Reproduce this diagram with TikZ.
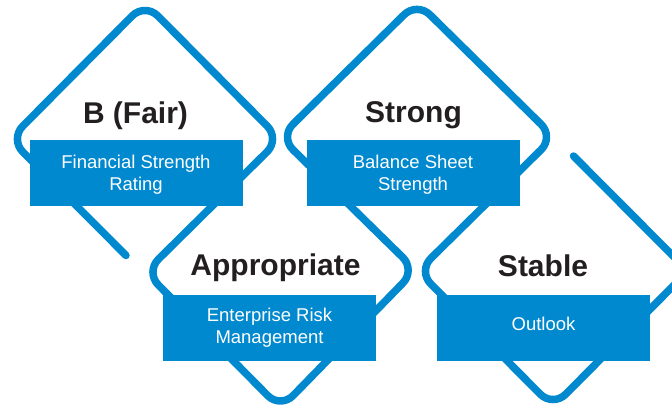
\documentclass[tikz,border=0pt]{standalone}
\usepackage{fontspec}
\setmainfont{Liberation Sans}
\definecolor{brandblue}{RGB}{0,137,207}
\definecolor{ink}{RGB}{35,31,32}
\begin{document}
\begin{tikzpicture}[x=1pt,y=-1pt,
  framepath/.style={draw=brandblue, line width=7.5pt, rounded corners=18pt, line cap=round, line join=round},
  tagbox/.style={fill=brandblue, draw=none, minimum width=213pt, minimum height=66pt, inner sep=0pt, anchor=north west},
  headtxt/.style={font=\fontsize{30}{36}\selectfont\bfseries, text=ink, anchor=base, inner sep=0pt},
  subtxt/.style={font=\fontsize{18.5}{22}\selectfont, text=white, anchor=base, inner sep=0pt}]
\useasboundingbox (0,0) rectangle (672,407);
\begin{scope}
\clip (0,0) rectangle (672,407);
\coordinate (s) at (126,255.5);
\coordinate (d1l) at (10,139);
\coordinate (d1t) at (145,3);
\coordinate (d1r) at (280,139);
\coordinate (d3l) at (145.5,272);
\coordinate (d3b) at (280.5,408.5);
\coordinate (d3r) at (415.6,270);
\coordinate (d2l) at (280,137);
\coordinate (d2t) at (417,2);
\coordinate (d2r) at (554,137);
\coordinate (d4l) at (418,271);
\coordinate (d4b) at (553,407);
\coordinate (d4r) at (688,271);
\coordinate (e) at (573.5,156);
\draw[framepath] (s) -- (d1l) -- (d1t) -- (d1r) -- (d3l) -- (d3b) -- (d3r) -- (d2l) -- (d2t) -- (d2r) -- (d4l) -- (d4b) -- (d4r) -- (e);
\end{scope}
\node[tagbox] (r1) at (30,140) {};
\node[tagbox] (r2) at (307,140) {};
\node[tagbox] (r3) at (163,295) {};
\node[tagbox] (r4) at (437,295) {};
\node[headtxt] (h1) at (135.5,123) {B (Fair)};
\node[headtxt] (h2) at (413.5,122.5) {Strong};
\node[headtxt] (h3) at (275.5,275.5) {Appropriate};
\node[headtxt] (h4) at (543,276.5) {Stable};
\node[subtxt] (s1a) at (136,168) {Financial Strength};
\node[subtxt] (s1b) at (136,190) {Rating};
\node[subtxt] (s2a) at (413,168) {Balance Sheet};
\node[subtxt] (s2b) at (413,190) {Strength};
\node[subtxt] (s3a) at (269.5,321.5) {Enterprise Risk};
\node[subtxt] (s3b) at (269.5,343.5) {Management};
\node[subtxt] (s4) at (543.5,330.5) {Outlook};
\end{tikzpicture}
\end{document}
